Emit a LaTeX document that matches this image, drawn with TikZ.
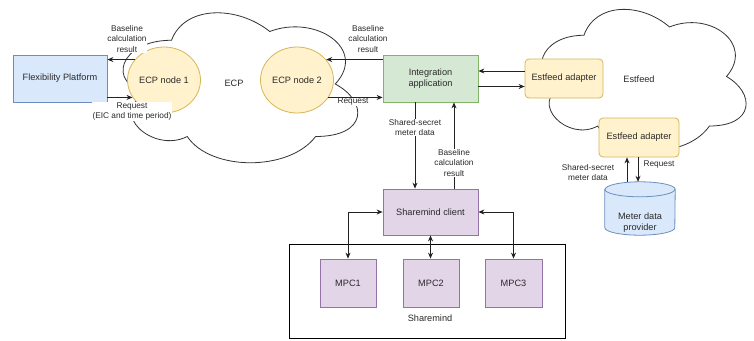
\documentclass[tikz,border=0pt]{standalone}
\usepackage{fontspec}
\setmainfont{Liberation Sans}
\usetikzlibrary{arrows.meta,shapes.geometric,calc}
\definecolor{bluefill}{HTML}{DAE8FC}
\definecolor{bluestroke}{HTML}{6C8EBF}
\definecolor{yelfill}{HTML}{FFF2CC}
\definecolor{yelstroke}{HTML}{D6B656}
\definecolor{grnfill}{HTML}{D5E8D4}
\definecolor{grnstroke}{HTML}{82B366}
\definecolor{purfill}{HTML}{E1D5E7}
\definecolor{purstroke}{HTML}{9673A6}
\definecolor{txt}{HTML}{2A2A2A}
\definecolor{linecol}{HTML}{222222}
\definecolor{cloudcol}{HTML}{333333}
\begin{document}
\begin{tikzpicture}[x=1pt,y=-1pt,
  every node/.style={text=txt, font=\fontsize{9.2}{11}\selectfont, align=center, inner sep=1pt},
  fpbox/.style={draw=bluestroke, fill=bluefill, line width=0.8pt, minimum width=94pt, minimum height=47pt},
  ecpnode/.style={ellipse, draw=yelstroke, fill=yelfill, line width=0.8pt, minimum width=56pt, minimum height=66pt},
  iabox/.style={draw=grnstroke, fill=grnfill, line width=0.8pt, minimum width=95pt, minimum height=47pt},
  adapter/.style={draw=yelstroke, fill=yelfill, line width=0.8pt, rounded corners=4pt, minimum width=#1, minimum height=39pt},
  purbox/.style={draw=purstroke, fill=purfill, line width=0.8pt},
  container/.style={draw=black, fill=white, line width=0.8pt, minimum width=276pt, minimum height=94pt},
  cloudline/.style={draw=cloudcol, fill=white, line width=0.8pt},
  cylfill/.style={draw=bluestroke, fill=bluefill, line width=0.8pt},
  lbl/.style={font=\fontsize{8.3}{10.5}\selectfont, fill=white, inner sep=0.5pt},
  arr/.style={draw=linecol, line width=0.8pt, -{Stealth[length=6pt,width=5pt]}},
  dblarr/.style={draw=linecol, line width=0.8pt, {Stealth[length=6pt,width=5pt]}-{Stealth[length=6pt,width=5pt]}}
]
\useasboundingbox (0,0) rectangle (754,340);

% ECP cloud
\begin{scope}[shift={(106,-3.5)},x=262pt,y=-175pt]
\draw[cloudline] (0.25,0.25) .. controls (0.05,0.25) and (0,0.5) .. (0.16,0.55)
  .. controls (0,0.66) and (0.18,0.9) .. (0.31,0.8)
  .. controls (0.4,1) and (0.7,1) .. (0.8,0.8)
  .. controls (1,0.8) and (1,0.6) .. (0.875,0.5)
  .. controls (1,0.3) and (0.8,0.1) .. (0.625,0.2)
  .. controls (0.5,0.05) and (0.3,0.05) .. (0.25,0.25) -- cycle;
\end{scope}
% Estfeed cloud
\begin{scope}[shift={(527,-6)},x=228pt,y=-165pt]
\draw[cloudline] (0.25,0.25) .. controls (0.05,0.25) and (0,0.5) .. (0.16,0.55)
  .. controls (0,0.66) and (0.18,0.9) .. (0.31,0.8)
  .. controls (0.4,1) and (0.7,1) .. (0.8,0.8)
  .. controls (1,0.8) and (1,0.6) .. (0.875,0.5)
  .. controls (1,0.3) and (0.8,0.1) .. (0.625,0.2)
  .. controls (0.5,0.05) and (0.3,0.05) .. (0.25,0.25) -- cycle;
\end{scope}
\node (ecplbl) at (234,83) {ECP};
\node (estlbl) at (639,79) {Estfeed};

% nodes
\node[fpbox] (fp) at (60,78.5) {Flexibility Platform};
\node[ecpnode] (n1) at (164,80) {ECP node 1};
\node[ecpnode] (n2) at (297,80) {ECP node 2};
\node[iabox] (ia) at (430.5,78.5) {Integration\\application};
\node[adapter=78pt] (ea1) at (564,78.5) {Estfeed adapter};
\node[adapter=80pt] (ea2) at (639,137.5) {Estfeed adapter};

% meter data provider (cylinder)
\node[minimum width=70pt, minimum height=53pt, inner sep=0pt] (mdp) at (640,208.5) {};
\draw[cylfill] ([yshift=-7.5pt]mdp.north west) -- ([yshift=7.5pt]mdp.south west)
  arc[start angle=180, end angle=360, x radius=35pt, y radius=7.5pt]
  -- ([yshift=-7.5pt]mdp.north east)
  arc[start angle=0, end angle=180, x radius=35pt, y radius=7.5pt] -- cycle;
\draw[draw=bluestroke, line width=0.8pt] ([yshift=-7.5pt]mdp.north west)
  arc[start angle=180, end angle=360, x radius=35pt, y radius=7.5pt];
\node (mdptext) at (640,222.5) {Meter data\\provider};

% Sharemind
\node[purbox, minimum width=95pt, minimum height=46pt] (sc) at (430.5,212) {Sharemind client};
\node[container] (sm) at (427,291) {};
\node (smlbl) at (430,318) {Sharemind};
\node[purbox, minimum width=56pt, minimum height=48pt] (mpc1) at (348,283) {MPC1};
\node[purbox, minimum width=56pt, minimum height=48pt] (mpc2) at (431,283) {MPC2};
\node[purbox, minimum width=57pt, minimum height=48pt] (mpc3) at (513.5,283) {MPC3};

% connectors
\draw[arr] (n1.145) -- (n1.145 -| fp.east);
\draw[arr] (n1.209 -| fp.east) -- (n1.209);
\draw[arr] (ia.west |- n2.35) -- (n2.35);
\draw[arr] (n2.-29) -- (n2.-29 -| ia.west);
\draw[arr] ([yshift=7.5pt]ea1.west) -- ([yshift=7.5pt]ea1.west -| ia.east);
\draw[arr] ([yshift=-8pt]ia.east) -- ([yshift=-8pt]ia.east -| ea1.west);
\draw[arr] ([xshift=-15.5pt]ia.south) -- node[lbl, pos=0.29] (l5) {Shared-secret\\meter data} ([xshift=-15.5pt]ia.south |- sc.north);
\draw[arr] ([xshift=23.5pt]sc.north) -- node[lbl, pos=0.30] (l6) {Baseline\\calculation\\result} ([xshift=23.5pt]sc.north |- ia.south);
\draw[arr] ([xshift=-13pt]mdp.north) -- ([xshift=-13pt]mdp.north |- ea2.south);
\draw[arr] ([xshift=-1pt]ea2.south) -- ([xshift=-1pt]ea2.south |- mdp.north);
\draw[dblarr] (sc.west) -| (mpc1.north);
\draw[dblarr] (sc.south) -- (sc.south |- mpc2.north);
\draw[dblarr] (sc.east) -| (mpc3.north);

% edge labels
\node[lbl] (l1) at (127,39) {Baseline\\calculation\\result};
\node[lbl] (l2) at (132,111.5) {Request\\(EIC and time period)};
\node[lbl] (l3) at (368,39) {Baseline\\calculation\\result};
\node[lbl] (l4) at (353,102) {Request};
\node[lbl] (l7) at (588,172.5) {Shared-secret\\meter data};
\node[lbl] (l8) at (659,165) {Request};
\end{tikzpicture}
\end{document}
